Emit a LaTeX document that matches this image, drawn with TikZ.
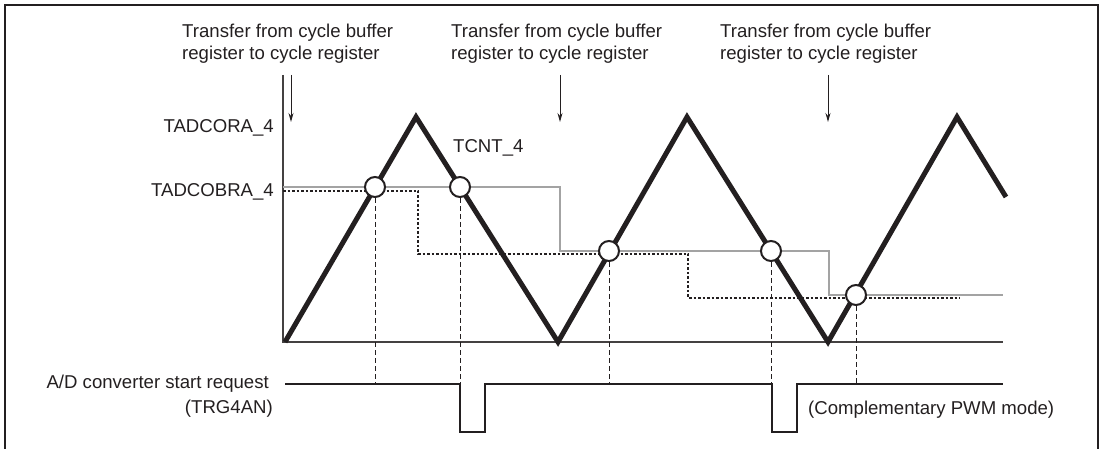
\documentclass[tikz,border=0pt]{standalone}
\usepackage{fontspec}
\setmainfont{Liberation Sans}
\usetikzlibrary{arrows.meta}
\definecolor{ink}{HTML}{231F20}
\definecolor{lgray}{HTML}{A3A3A3}
\begin{document}
\begin{tikzpicture}[x=1pt,y=-1pt,
  lbl/.style={font=\fontsize{18.6}{22}\selectfont, inner sep=0pt, text=ink},
  wave/.style={line width=5pt, draw=ink, line join=miter},
  axisline/.style={line width=1.3pt, draw=ink!85},
  graystep/.style={line width=2pt, draw=lgray},
  dotstep/.style={line width=2.5pt, draw=ink, dash pattern=on 2.5pt off 2pt},
  pulse/.style={line width=2.8pt, draw=ink},
  dropline/.style={line width=1pt, draw=ink, dash pattern=on 5pt off 3pt},
  xfer/.style={line width=1pt, draw=ink, -{Stealth[length=9pt,width=5pt]}},
  hit/.style={circle, draw=ink, fill=white, line width=2pt, minimum size=20pt, inner sep=0pt},
  frameline/.style={line width=2pt, draw=ink}]
\useasboundingbox (0,0) rectangle (1101,449);
% frame
\coordinate (fbl) at (5,449); \coordinate (ftl) at (5,5);
\coordinate (ftr) at (1098,5); \coordinate (fbr) at (1098,449);
\draw[frameline] (fbl) -- (ftl) -- (ftr) -- (fbr);

% top labels
\node[lbl, anchor=north west, align=left] (t1) at (182,24) {Transfer from cycle buffer\\register to cycle register};
\node[lbl, anchor=north west, align=left] (t2) at (451,24) {Transfer from cycle buffer\\register to cycle register};
\node[lbl, anchor=north west, align=left] (t3) at (720,24) {Transfer from cycle buffer\\register to cycle register};

% axis
\coordinate (atop) at (283,75); \coordinate (org) at (283,342); \coordinate (aend) at (1003,342);
\draw[axisline] (atop) -- (org) -- (aend);

% transfer arrows
\coordinate (a1s) at (291,75); \coordinate (a1e) at (291,122);
\coordinate (a2s) at (560,75); \coordinate (a2e) at (560,122);
\coordinate (a3s) at (828,75); \coordinate (a3e) at (828,122);
\draw[xfer] (a1s) -- (a1e);
\draw[xfer] (a2s) -- (a2e);
\draw[xfer] (a3s) -- (a3e);

% axis labels
\node[lbl, anchor=east] (ra) at (274,128) {TADCORA\_4};
\node[lbl, anchor=east] (rb) at (274,192) {TADCOBRA\_4};
\node[lbl, anchor=west] (tc) at (453,148) {TCNT\_4};

% gray step (cycle register compare)
\coordinate (g0) at (283,187); \coordinate (g1) at (560,187); \coordinate (g2) at (560,251);
\coordinate (g3) at (829,251); \coordinate (g4) at (829,295); \coordinate (g5) at (1003,295);
\draw[graystep] (g0) -- (g1) -- (g2) -- (g3) -- (g4) -- (g5);

% dotted step (buffer)
\coordinate (d0) at (283,191); \coordinate (d1) at (418,191); \coordinate (d2) at (418,254);
\coordinate (d3) at (688,254); \coordinate (d4) at (688,298); \coordinate (d5) at (960,298);
\draw[dotstep] (d0) -- (d1) -- (d2) -- (d3) -- (d4) -- (d5);

% triangle wave
\coordinate (w0) at (285,342); \coordinate (w1) at (416,117); \coordinate (w2) at (558,342);
\coordinate (w3) at (687,117); \coordinate (w4) at (828,342); \coordinate (w5) at (957,117);
\coordinate (w6) at (1006,197);
\draw[wave] (w0) -- (w1) -- (w2) -- (w3) -- (w4) -- (w5) -- (w6);

% pulse (TRG4AN)
\coordinate (p0) at (285,384); \coordinate (p1) at (460,384); \coordinate (p2) at (460,432);
\coordinate (p3) at (485,432); \coordinate (p4) at (485,384); \coordinate (p5) at (772,384);
\coordinate (p6) at (772,432); \coordinate (p7) at (797,432); \coordinate (p8) at (797,384);
\coordinate (p9) at (1003,384);
\draw[pulse] (p0) -- (p1) -- (p2) -- (p3) -- (p4) -- (p5) -- (p6) -- (p7) -- (p8) -- (p9);

% compare-match circles
\node[hit] (c1) at (375,187) {};
\node[hit] (c2) at (460,187) {};
\node[hit] (c3) at (609,251) {};
\node[hit] (c4) at (771,251) {};
\node[hit] (c5) at (856,295) {};

% dashed drop lines
\foreach \c in {c1,c2,c3,c4,c5}
  \draw[dropline] (\c.south) -- (\c.south |- p0);

% lower labels
\node[lbl, anchor=east] (adl) at (269,384) {A/D converter start request};
\node[lbl, anchor=east] (trg) at (273,409) {(TRG4AN)};
\node[lbl, anchor=west] (cpm) at (808,410) {(Complementary PWM mode)};
\end{tikzpicture}
\end{document}
